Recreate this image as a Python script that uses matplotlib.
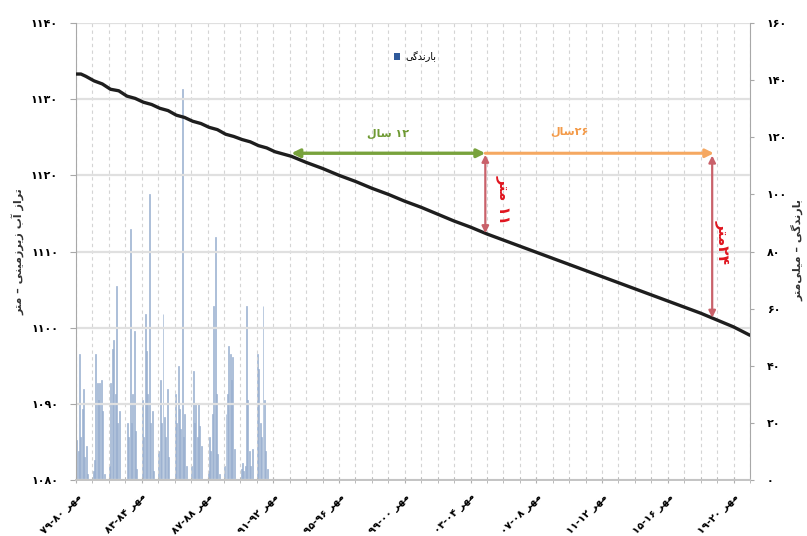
import re
import matplotlib
matplotlib.use("Agg")
import matplotlib.pyplot as plt
from matplotlib.patches import Patch
from matplotlib.ticker import MultipleLocator, FixedLocator

plt.rcParams['font.family'] = ['DejaVu Sans']

# ---------------- data ----------------
# monthly rainfall (mm), water years Mehr 1379 .. Shahrivar 1391 (12 months each)
rain_y79 = [14, 10, 44, 15, 25, 32, 8, 12, 2, 0, 0, 0]
rain_y80 = [3, 7, 44, 34, 28, 34, 35, 24, 2, 0, 0, 0]
rain_y81 = [5, 34, 46, 49, 30, 68, 20, 24, 0, 0, 0, 0]
rain_y82 = [0, 20, 15, 88, 20, 30, 52, 17, 4, 0, 0, 0]
rain_y83 = [28, 15, 58, 45, 30, 100, 20, 24, 3, 0, 0, 0]
rain_y84 = [10, 35, 20, 58, 22, 15, 32, 8, 0, 0, 0, 0]
rain_y85 = [30, 20, 40, 25, 18, 137, 15, 23, 5, 0, 0, 0]
rain_y86 = [5, 38, 20, 27, 15, 27, 19, 12, 0, 0, 0, 0]
rain_y87 = [3, 15, 10, 23, 61, 85, 30, 9, 2, 0, 0, 0]
rain_y88 = [5, 23, 30, 47, 44, 35, 43, 11, 0, 0, 0, 0]
rain_y89 = [4, 6, 3, 5, 61, 28, 10, 5, 11, 0, 0, 0]
rain_y90 = [44, 39, 20, 15, 61, 28, 10, 4, 0, 0, 0, 0]
rain = (rain_y79 + rain_y80 + rain_y81 + rain_y82 + rain_y83 + rain_y84 +
        rain_y85 + rain_y86 + rain_y87 + rain_y88 + rain_y89 + rain_y90)

# groundwater level (m): time in years since Mehr 1379
level_t = [0.0, 0.3, 0.6, 1.1, 1.6, 2.1, 2.6, 3.1, 3.6, 4.1, 4.6, 5.1, 5.6, 6.1, 6.6,
           7.1, 7.6, 8.1, 8.6, 9.1, 9.6, 10.1, 10.6, 11.1, 11.6, 12.1, 12.6, 13.1,
           14, 15, 16, 17, 18, 19, 20, 21, 22, 23, 24, 25, 26, 27, 28, 29, 30,
           31, 32, 33, 34, 35, 36, 37, 38, 39, 40, 41]
level = [1133.3, 1133.3, 1133.0, 1132.4, 1132.0, 1131.3, 1131.1, 1130.4, 1130.1,
         1129.6, 1129.3, 1128.8, 1128.5, 1127.9, 1127.6, 1127.1, 1126.8, 1126.3,
         1126.0, 1125.4, 1125.1, 1124.7, 1124.4, 1123.9, 1123.6, 1123.1, 1122.8,
         1122.5,
         1121.7, 1120.9, 1120.0, 1119.2, 1118.3, 1117.5, 1116.6, 1115.8, 1114.9,
         1114.0, 1113.2, 1112.3, 1111.5, 1110.7, 1109.9, 1109.1, 1108.3, 1107.5,
         1106.7, 1105.9, 1105.1, 1104.3, 1103.5, 1102.7, 1101.9, 1101.0, 1100.1,
         1099.0]

x_tick_years = [0, 4, 8, 12, 16, 20, 24, 28, 32, 36, 40]
x_tick_labels = ['مهر ۷۹-۸۰', 'مهر ۸۳-۸۴', 'مهر ۸۷-۸۸', 'مهر ۹۱-۹۲', 'مهر ۹۵-۹۶',
                 'مهر ۹۹-۰۰', 'مهر ۰۳-۰۴', 'مهر ۰۷-۰۸', 'مهر ۱۱-۱۲', 'مهر ۱۵-۱۶',
                 'مهر ۱۹-۲۰']
left_ticks = [1080, 1090, 1100, 1110, 1120, 1130, 1140]
left_tick_labels = ['۱۰۸۰', '۱۰۹۰', '۱۱۰۰', '۱۱۱۰', '۱۱۲۰', '۱۱۳۰', '۱۱۴۰']
right_ticks = [0, 20, 40, 60, 80, 100, 120, 140, 160]
right_tick_labels = ['۰', '۲۰', '۴۰', '۶۰', '۸۰', '۱۰۰', '۱۲۰', '۱۴۰', '۱۶۰']

# annotation spans (years, level)
span_green = (13.1, 24.9)
span_orange = (24.9, 38.8)
span_level = 1122.9
drop1 = (24.9, 1122.7, 1112.4)
drop2 = (38.7, 1122.6, 1101.3)

label_left = 'تراز آب زیرزمینی – متر'
label_right = 'بارندگی – میلی\u200cمتر'
legend_label = 'بارندگی'
text_12 = '۱۲ سال'
text_26 = '۲۶سال'
text_11 = '۱۱ متر'
text_24 = '۲۴متر'

# ---------------- Persian shaping helpers ----------------
FORMS = {
    'ا': ('\uFE8D', '\uFE8E', None, None),
    'آ': ('\uFE81', '\uFE82', None, None),
    'ب': ('\uFE8F', '\uFE90', '\uFE91', '\uFE92'),
    'ت': ('\uFE95', '\uFE96', '\uFE97', '\uFE98'),
    'د': ('\uFEA9', '\uFEAA', None, None),
    'ر': ('\uFEAD', '\uFEAE', None, None),
    'ز': ('\uFEAF', '\uFEB0', None, None),
    'س': ('\uFEB1', '\uFEB2', '\uFEB3', '\uFEB4'),
    'ل': ('\uFEDD', '\uFEDE', '\uFEDF', '\uFEE0'),
    'م': ('\uFEE1', '\uFEE2', '\uFEE3', '\uFEE4'),
    'ن': ('\uFEE5', '\uFEE6', '\uFEE7', '\uFEE8'),
    'ه': ('\uFEE9', '\uFEEA', '\uFEEB', '\uFEEC'),
    'ی': ('\uFBFC', '\uFBFD', '\uFBFE', '\uFBFF'),
    'گ': ('\uFB92', '\uFB93', '\uFB94', '\uFB95'),
}


def _dual(c):
    return c in FORMS and FORMS[c][2] is not None


def _shape(s):
    out = []
    for i, c in enumerate(s):
        if c not in FORMS:
            out.append(c)
            continue
        prev = s[i - 1] if i > 0 else ''
        nxt = s[i + 1] if i + 1 < len(s) else ''
        jp = _dual(prev)
        jn = _dual(c) and nxt in FORMS
        iso, fin, ini, med = FORMS[c]
        if jp and jn:
            out.append(med)
        elif jp:
            out.append(fin)
        elif jn:
            out.append(ini)
        else:
            out.append(iso)
    return ''.join(out)


def fa(s):
    s = _shape(s)
    toks = re.findall(r'[0-9۰-۹]+(?:[-.,/][0-9۰-۹]+)*|[^0-9۰-۹]+', s)
    vis = []
    for t in reversed(toks):
        if re.match(r'[0-9۰-۹]', t):
            vis.append(t)
        else:
            vis.append(t[::-1])
    return ''.join(vis).replace('\u200c', '')


# ---------------- figure ----------------
fig = plt.figure(figsize=(8.07, 5.36), dpi=100)
ax1 = fig.add_axes([76 / 807, 1 - 480 / 536, 674 / 807, 457 / 536])
ax2 = ax1.twinx()
ax1.set_zorder(ax2.get_zorder() + 1)
ax1.patch.set_visible(False)

month_x = [(i + 0.5) / 12 for i in range(len(rain))]
ax2.bar(month_x, rain, width=0.7 / 12, color='#bccbe0', edgecolor='#8aa4c9',
        linewidth=0.4)
ax2.set_ylim(0, 160)

ax1.plot(level_t, level, color='#1e1e1e', lw=2.4, solid_capstyle='round',
         solid_joinstyle='round', zorder=5)
ax1.set_ylim(1080, 1140)
ax1.set_xlim(0, 41)

# grid
ax1.set_yticks(left_ticks)
ax1.set_yticklabels(left_tick_labels)
ax1.yaxis.grid(True, color='#e0e0e0', lw=1.6)
ax1.xaxis.set_major_locator(FixedLocator(x_tick_years))
ax1.xaxis.set_minor_locator(MultipleLocator(1))
ax1.set_xticklabels([fa(t) for t in x_tick_labels], rotation=45, ha='right',
                    va='top', rotation_mode='anchor', fontsize=7.5, fontweight='bold')
ax1.xaxis.grid(True, which='both', color='#d4d4d4', lw=0.8, ls=(0, (3, 3)))
ax1.set_axisbelow(True)

ax2.set_yticks(right_ticks)
ax2.set_yticklabels(right_tick_labels)

for a in (ax1, ax2):
    for sp in a.spines.values():
        sp.set_visible(False)
ax1.spines['left'].set_visible(True)
ax1.spines['left'].set_color('#a8a8a8')
ax1.spines['bottom'].set_visible(True)
ax1.spines['bottom'].set_color('#c4c4c4')
ax1.spines['bottom'].set_linewidth(1.4)
ax2.spines['right'].set_visible(True)
ax2.spines['right'].set_color('#a8a8a8')

ax1.tick_params(axis='y', length=4, color='#a8a8a8', labelsize=8, pad=9)
ax2.tick_params(axis='y', length=3, color='#a8a8a8', labelsize=8, pad=9)
ax1.tick_params(axis='x', which='both', length=5, direction='inout',
                color='#b0b0b0', pad=6)
for lab in ax1.get_yticklabels() + ax2.get_yticklabels():
    lab.set_fontweight('bold')

# arrows
ax1.annotate('', xy=(span_orange[1], span_level), xytext=(span_orange[0], span_level),
             arrowprops=dict(arrowstyle='-|>', color='#f5a861', lw=2.2,
                             mutation_scale=12, shrinkA=0, shrinkB=0), zorder=6)
ax1.annotate('', xy=(span_green[1], span_level), xytext=(span_green[0], span_level),
             arrowprops=dict(arrowstyle='<|-|>', color='#78a23c', lw=2.4,
                             mutation_scale=12, shrinkA=0, shrinkB=0), zorder=7)
for (xx, ytop, ybot) in (drop1, drop2):
    ax1.annotate('', xy=(xx, ybot), xytext=(xx, ytop),
                 arrowprops=dict(arrowstyle='<|-|>', color='#c9616a', lw=1.6,
                                 mutation_scale=10, shrinkA=0, shrinkB=0), zorder=6)

ax1.text(19.0, 1125.4, fa(text_12), color='#6f9a33', fontsize=8, fontweight='bold',
         ha='center', va='center')
ax1.text(30.0, 1125.7, fa(text_26), color='#f39a48', fontsize=8, fontweight='bold',
         ha='center', va='center')
ax1.text(26.0, 1116.8, fa(text_11), color='#e0151f', fontsize=11, fontweight='bold',
         ha='center', va='center', rotation=-90)
ax1.text(39.35, 1111.3, fa(text_24), color='#e0151f', fontsize=11, fontweight='bold',
         ha='center', va='center', rotation=-90)

# legend
leg = ax1.legend(handles=[Patch(facecolor='#2f5a9b', edgecolor='none')],
                 labels=[fa(legend_label)], loc='center', bbox_to_anchor=(0.503, 0.926),
                 frameon=False, fontsize=7, handlelength=0.7, handleheight=0.7,
                 handletextpad=0.5)

fig.text(18 / 807, 1 - 252 / 536, fa(label_left), rotation=90, ha='center',
         va='center', fontsize=8, fontweight='bold', color='#333333')
fig.text(797 / 807, 1 - 250 / 536, fa(label_right), rotation=90, ha='center',
         va='center', fontsize=8, fontweight='bold', color='#333333')

fig.savefig('out.png', dpi=100)
